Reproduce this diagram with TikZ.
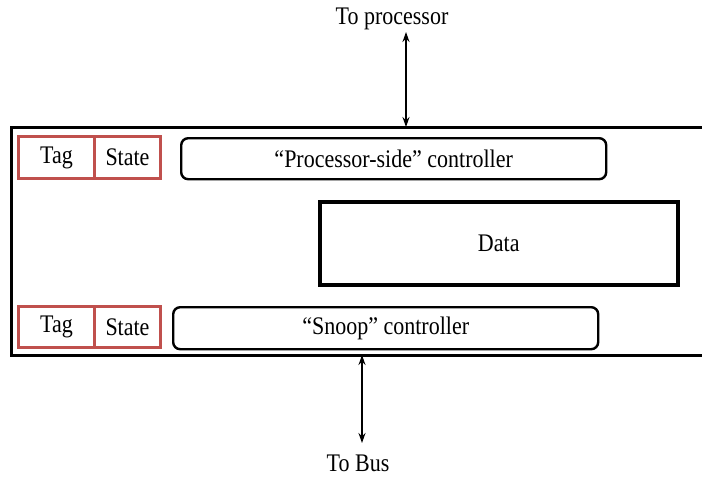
\documentclass[tikz,border=0pt]{standalone}
\usepackage{fontspec}
\usepackage{graphicx}
\setmainfont{Liberation Serif}
\usetikzlibrary{arrows.meta}
\newcommand{\tall}[1]{\scalebox{1}[1.15]{#1}}
\begin{document}
\begin{tikzpicture}[x=1pt,y=-1pt,
  every node/.style={font=\fontsize{22}{25}\selectfont, inner sep=0pt},
  outerbox/.style={draw=black, line width=3pt},
  ctrlbox/.style={draw=black, line width=2.4pt, rounded corners=7pt},
  databox/.style={draw=black, line width=3.5pt},
  redbox/.style={draw=tagred, line width=3pt},
  link/.style={line width=1.8pt, {Stealth[length=10pt,width=7pt]}-{Stealth[length=10pt,width=7pt]}}
]
\definecolor{tagred}{RGB}{192,80,77}
\useasboundingbox (0,0) rectangle (702,477);

% cache frame (right side runs off the page)
\draw[outerbox] (11,127) rectangle (706,355);
\coordinate (frametop) at (406,127);
\coordinate (framebot) at (362,355);

% processor-side row
\node[redbox, minimum width=76pt, minimum height=42pt, anchor=north west] (tag1) at (17,135) {\tall{Tag}};
\node[redbox, minimum width=66pt, minimum height=42pt, anchor=north west] (state1) at (93,135) {\tall{State}};
\node[ctrlbox, minimum width=425pt, minimum height=41pt, anchor=north west] (pctrl) at (180,137) {\tall{“Processor-side” controller}};

% data array
\node[databox, minimum width=358pt, minimum height=83pt, anchor=north west] (data) at (318,200) {\tall{Data}};

% snoop row
\node[redbox, minimum width=76pt, minimum height=41pt, anchor=north west] (tag2) at (17,305) {\tall{Tag}};
\node[redbox, minimum width=66pt, minimum height=41pt, anchor=north west] (state2) at (93,305) {\tall{State}};
\node[ctrlbox, minimum width=425pt, minimum height=42pt, anchor=north west] (sctrl) at (172,306) {\tall{“Snoop” controller}};

% external connections
\node (toproc) at (392,19) {\tall{To processor}};
\node (tobus) at (358,463) {\tall{To Bus}};
\coordinate (procend) at (406,32);
\coordinate (busend) at (362,443);
\draw[link] (procend) -- (frametop);
\draw[link] (framebot) -- (busend);
\end{tikzpicture}
\end{document}
